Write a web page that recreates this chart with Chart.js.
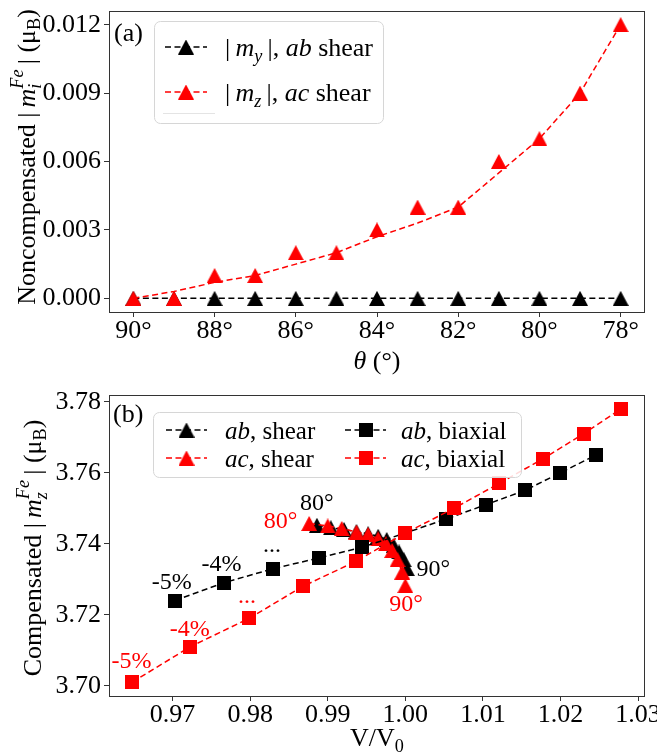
<!DOCTYPE html>
<html>
<head>
<meta charset="utf-8">
<script src="https://cdn.jsdelivr.net/npm/chart.js@4/dist/chart.umd.min.js"></script>
<style>
  html, body { margin: 0; padding: 0; background: #fff; }
  #wrap { position: relative; width: 657px; height: 756px; }
  canvas { position: absolute; left: 0; }
</style>
</head>
<body>
<div id="wrap">
  <canvas id="panelA" width="657" height="378" style="top:0"></canvas>
  <canvas id="panelB" width="657" height="378" style="top:378px"></canvas>
</div>
<script>
// ---- panel (a): noncompensated moment vs shear angle ----
const thetaDeg   = [90, 89, 88, 87, 86, 85, 84, 83, 82, 81, 80, 79, 78];
const myAbShear  = [0, 0, 0, 0, 0, 0, 0, 0, 0, 0, 0, 0, 0];
const mzAcShear  = [0, 0, 0.001, 0.001, 0.002, 0.002, 0.003, 0.004, 0.004, 0.006, 0.007, 0.009, 0.012];
const mzAcTrend  = [0, 0.0003, 0.0007, 0.001, 0.0015, 0.002, 0.0027, 0.0033, 0.004, 0.0055, 0.007, 0.009, 0.012];
const thetaTicks = [90, 88, 86, 84, 82, 80, 78];
const momentTicks = [0, 0.003, 0.006, 0.009, 0.012];

// ---- panel (b): compensated moment vs V/V0 ----
const volAbShear = [0.9886, 0.9904, 0.9921, 0.9937, 0.9952, 0.9965, 0.9976, 0.9985, 0.9992, 0.9998, 1.0002];
const magAbShear = [3.7452, 3.7445, 3.7440, 3.7434, 3.7428, 3.7421, 3.7412, 3.7395, 3.7377, 3.7355, 3.7330];
const volAcShear = [0.9876, 0.9900, 0.9918, 0.9937, 0.9952, 0.9965, 0.9975, 0.9983, 0.9990, 0.9996, 1.0000];
const magAcShear = [3.7457, 3.7450, 3.7443, 3.7433, 3.7426, 3.7414, 3.7400, 3.7381, 3.7355, 3.7320, 3.7282];
const volAbBiax  = [0.9703, 0.9766, 0.9830, 0.9889, 0.9944, 1.0000, 1.0053, 1.0104, 1.0154, 1.0200, 1.0246];
const magAbBiax  = [3.724, 3.729, 3.733, 3.736, 3.739, 3.743, 3.747, 3.751, 3.755, 3.760, 3.765];
const volAcBiax  = [0.9648, 0.9723, 0.9799, 0.9868, 0.9936, 1.0000, 1.0063, 1.0121, 1.0178, 1.0230, 1.0278];
const magAcBiax  = [3.701, 3.711, 3.719, 3.728, 3.735, 3.743, 3.750, 3.757, 3.764, 3.771, 3.778];
const volTicks = [0.97, 0.98, 0.99, 1.00, 1.01, 1.02, 1.03];
const magTicks = [3.70, 3.72, 3.74, 3.76, 3.78];

// annotations in (b), placed in data coordinates
const noteText  = ['80°', '80°', '90°', '90°', '-5%', '-4%', '...', '-5%', '-4%', '...'];
const noteVol   = [0.9886, 0.9839, 1.0036, 1.0001, 0.9699, 0.9763, 0.9828, 0.9647, 0.9722, 0.9796];
const noteMag   = [3.7514, 3.7462, 3.7326, 3.7227, 3.7289, 3.7340, 3.7394, 3.7068, 3.7157, 3.7250];
const noteColor = ['#000', 'red', '#000', 'red', '#000', '#000', '#000', 'red', 'red', 'red'];

const FONT = '"Liberation Serif", "Times New Roman", serif';
const RED = '#ff0000';

function pts(xs, ys) { return xs.map((x, i) => ({ x: x, y: ys[i] })); }

// marker images like matplotlib '^' and 's'
function triangle(color) {
  const c = document.createElement('canvas');
  c.width = 16; c.height = 15;
  const g = c.getContext('2d');
  g.fillStyle = color;
  g.beginPath(); g.moveTo(8, 0); g.lineTo(16, 15); g.lineTo(0, 15); g.closePath(); g.fill();
  return c;
}
function square(color) {
  const c = document.createElement('canvas');
  c.width = 14; c.height = 14;
  const g = c.getContext('2d');
  g.fillStyle = color; g.fillRect(0, 0, 14, 14);
  return c;
}
const triK = triangle('#000'), triR = triangle(RED), sqK = square('#000'), sqR = square(RED);

function series(data, color, marker, extra) {
  return Object.assign({
    data: data, borderColor: color, backgroundColor: color,
    borderWidth: 1.5, borderDash: [6, 3.5], tension: 0, fill: false,
    pointStyle: marker, pointRadius: 7, pointHoverRadius: 7
  }, extra || {});
}

// rich text: [text, kind]  kind r=roman i=italic rb/ib=subscript ss=[sub,sup] stacked
function partFont(kind, size) {
  const it = kind === 'i' || kind === 'ib' || kind === 'ss';
  const small = kind === 'rb' || kind === 'ib' || kind === 'ss';
  return (it ? 'italic ' : '') + (small ? size * 0.7 : size) + 'px ' + FONT;
}
function partWidth(ctx, p, size) {
  ctx.font = partFont(p[1], size);
  if (p[1] === 'ss') return Math.max(ctx.measureText(p[0][0]).width, ctx.measureText(p[0][1]).width);
  return ctx.measureText(p[0]).width;
}
function drawRich(ctx, parts, x, y, size, color, align) {
  let w = 0;
  parts.forEach(p => { w += partWidth(ctx, p, size); });
  let cx = align === 'center' ? x - w / 2 : x;
  ctx.fillStyle = color; ctx.textAlign = 'left'; ctx.textBaseline = 'alphabetic';
  parts.forEach(p => {
    const pw = partWidth(ctx, p, size);
    if (p[1] === 'ss') {
      ctx.fillText(p[0][0], cx, y + size * 0.25);
      ctx.fillText(p[0][1], cx, y - size * 0.45);
    } else if (p[1] === 'rb' || p[1] === 'ib') {
      ctx.fillText(p[0], cx, y + size * 0.22);
    } else {
      ctx.fillText(p[0], cx, y);
    }
    cx += pw;
  });
}

function drawFrame(chart) {
  const { left, right, top, bottom } = chart.chartArea;
  const ctx = chart.ctx;
  ctx.save();
  ctx.strokeStyle = '#333'; ctx.lineWidth = 1;
  ctx.strokeRect(Math.round(left) + 0.5, Math.round(top) + 0.5, Math.round(right - left) - 1, Math.round(bottom - top));
  ctx.restore();
}
function legendBox(ctx, x, y, w, h) {
  ctx.save();
  ctx.fillStyle = 'rgba(255,255,255,0.85)';
  ctx.strokeStyle = '#d6d6d6'; ctx.lineWidth = 1;
  ctx.beginPath(); ctx.roundRect(x + 0.5, y + 0.5, w, h, 6); ctx.fill(); ctx.stroke();
  ctx.restore();
}
function legendHandle(ctx, x1, x2, y, color, img) {
  ctx.save();
  ctx.strokeStyle = color; ctx.lineWidth = 1.5; ctx.setLineDash([6, 3.5]);
  ctx.beginPath(); ctx.moveTo(x1, y); ctx.lineTo(x2, y); ctx.stroke();
  ctx.restore();
  if (img) ctx.drawImage(img, (x1 + x2) / 2 - img.width / 2, y - img.height / 2);
}
function yTitle(ctx, parts, xc, yc, size) {
  ctx.save();
  ctx.translate(xc, yc); ctx.rotate(-Math.PI / 2);
  drawRich(ctx, parts, 0, size * 0.33, size, '#000', 'center');
  ctx.restore();
}

function axisX(min, max, ticks, fmt, heightPx, reverse) {
  return {
    type: 'linear', min: min, max: max, reverse: !!reverse,
    afterBuildTicks: s => { s.ticks = ticks.map(v => ({ value: v })); },
    afterFit: s => { s.height = heightPx; s.paddingLeft = 0; s.paddingRight = 0; },
    grid: { display: true, drawOnChartArea: false, drawTicks: true, tickLength: 5, color: '#333', lineWidth: 1 },
    border: { display: false },
    ticks: { color: '#000', padding: 1, maxRotation: 0, autoSkip: false,
             font: { family: FONT, size: 26, lineHeight: 1 }, callback: fmt }
  };
}
function axisY(min, max, ticks, fmt) {
  return {
    type: 'linear', min: min, max: max,
    afterBuildTicks: s => { s.ticks = ticks.map(v => ({ value: v })); },
    afterFit: s => { s.width = 109; s.paddingTop = 0; s.paddingBottom = 0; },
    grid: { display: true, drawOnChartArea: false, drawTicks: true, tickLength: 5, color: '#333', lineWidth: 1 },
    border: { display: false },
    ticks: { color: '#000', padding: 3, autoSkip: false,
             font: { family: FONT, size: 26, lineHeight: 1 }, callback: fmt }
  };
}

const decorA = {
  id: 'decorA',
  afterDatasetsDraw(chart) {
    const ctx = chart.ctx;
    const ca = chart.chartArea;
    drawFrame(chart);
    ctx.save();
    drawRich(ctx, [['(a)', 'r']], 114, 41, 26, '#000', 'left');
    legendBox(ctx, 154, 21, 229, 102);
    legendHandle(ctx, 165, 207, 47, '#000', triK);
    drawRich(ctx, [['|\u2009', 'r'], ['m', 'i'], ['y', 'ib'], ['\u2009|', 'r'], [', ', 'r'], ['ab', 'i'], [' shear', 'r']], 225, 56, 26, '#000', 'left');
    legendHandle(ctx, 165, 207, 92, RED, triR);
    drawRich(ctx, [['|\u2009', 'r'], ['m', 'i'], ['z', 'ib'], ['\u2009|', 'r'], [', ', 'r'], ['ac', 'i'], [' shear', 'r']], 225, 101, 26, '#000', 'left');
    ctx.strokeStyle = '#e4e4e4'; ctx.lineWidth = 1;
    ctx.beginPath(); ctx.moveTo(163, 113.5); ctx.lineTo(215, 113.5); ctx.stroke();
    yTitle(ctx, [['Noncompensated ', 'r'], ['|\u2009', 'r'], ['m', 'i'], [['i', 'Fe'], 'ss'], ['\u2009|', 'r'], [' (μ', 'r'], ['B', 'rb'], [')', 'r']], 26, 157, 26);
    drawRich(ctx, [['θ', 'i'], [' (°)', 'r']], (ca.left + ca.right) / 2, 369, 26, '#000', 'center');
    ctx.restore();
  }
};

const decorB = {
  id: 'decorB',
  afterDatasetsDraw(chart) {
    const ctx = chart.ctx;
    const ca = chart.chartArea;
    const sx = chart.scales.x, sy = chart.scales.y;
    ctx.save();
    ctx.font = '24px ' + FONT; ctx.textAlign = 'center'; ctx.textBaseline = 'middle';
    noteText.forEach((t, i) => {
      ctx.fillStyle = noteColor[i];
      ctx.fillText(t, sx.getPixelForValue(noteVol[i]), sy.getPixelForValue(noteMag[i]));
    });
    ctx.restore();
    drawFrame(chart);
    ctx.save();
    drawRich(ctx, [['(b)', 'r']], 113, 44, 26, '#000', 'left');
    legendBox(ctx, 153, 34, 368, 65);
    legendHandle(ctx, 166, 207, 52, '#000', triK);
    drawRich(ctx, [['ab', 'i'], [', shear', 'r']], 225, 61, 25, '#000', 'left');
    legendHandle(ctx, 166, 207, 80, RED, triR);
    drawRich(ctx, [['ac', 'i'], [', shear', 'r']], 225, 89, 25, '#000', 'left');
    legendHandle(ctx, 345, 386, 52, '#000', sqK);
    drawRich(ctx, [['ab', 'i'], [', biaxial', 'r']], 401, 61, 25, '#000', 'left');
    legendHandle(ctx, 345, 386, 80, RED, sqR);
    drawRich(ctx, [['ac', 'i'], [', biaxial', 'r']], 401, 89, 25, '#000', 'left');
    yTitle(ctx, [['Compensated ', 'r'], ['|\u2009', 'r'], ['m', 'i'], [['z', 'Fe'], 'ss'], ['\u2009|', 'r'], [' (μ', 'r'], ['B', 'rb'], [')', 'r']], 32, 170, 26);
    drawRich(ctx, [['V/V', 'r'], ['0', 'rb']], (ca.left + ca.right) / 2, 368, 26, '#000', 'center');
    ctx.restore();
  }
};

const common = {
  responsive: false, devicePixelRatio: 1, animation: false,
  events: [],
  plugins: { legend: { display: false }, tooltip: { enabled: false } }
};

new Chart(document.getElementById('panelA'), {
  type: 'line',
  plugins: [decorA],
  data: {
    datasets: [
      series(pts(thetaDeg, mzAcShear), RED, triR, { showLine: false }),
      series(pts(thetaDeg, mzAcTrend), RED, triR, { pointRadius: 0 }),
      series(pts(thetaDeg, myAbShear), '#000', triK)
    ]
  },
  options: Object.assign({}, common, {
    layout: { padding: { top: 11, right: 12, left: 0, bottom: 0 } },
    scales: {
      x: axisX(77.4, 90.6, thetaTicks, v => v + '°', 66, true),
      y: axisY(-0.0006, 0.0126, momentTicks, v => v.toFixed(3))
    }
  })
});

new Chart(document.getElementById('panelB'), {
  type: 'line',
  plugins: [decorB],
  data: {
    datasets: [
      series(pts(volAcBiax, magAcBiax), RED, sqR),
      series(pts(volAbBiax, magAbBiax), '#000', sqK),
      series(pts(volAcShear, magAcShear), RED, triR),
      series(pts(volAbShear, magAbShear), '#000', triK)
    ]
  },
  options: Object.assign({}, common, {
    layout: { padding: { top: 17, right: 12, left: 0, bottom: 0 } },
    scales: {
      x: axisX(0.9618, 1.0309, volTicks, v => v.toFixed(2), 60),
      y: axisY(3.6971, 3.7819, magTicks, v => v.toFixed(2))
    }
  })
});
</script>
</body>
</html>
